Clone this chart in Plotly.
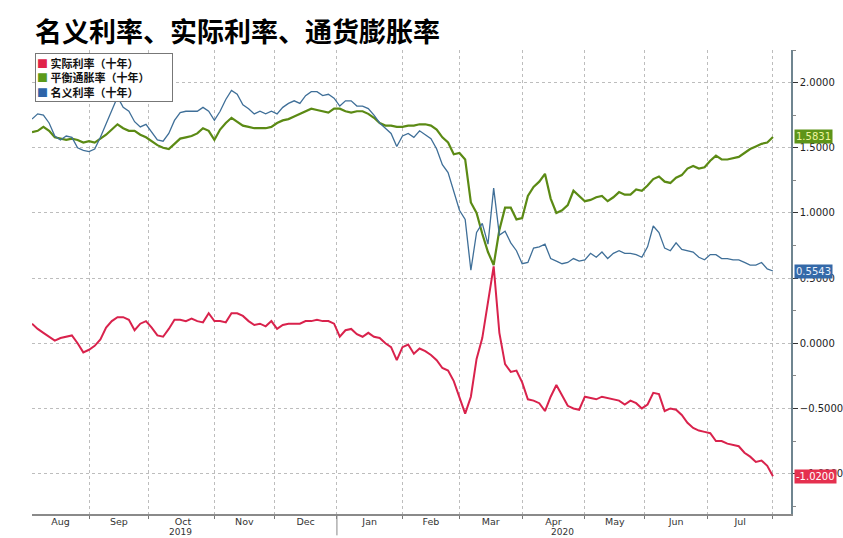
import pandas as pd
import plotly.graph_objects as go

# ---------------- data ----------------
title_text = "名义利率、实际利率、通货膨胀率"
series_names = ["实际利率（十年）", "平衡通胀率（十年）", "名义利率（十年）"]

# observation dates: every second business day, 2019-08-05 .. 2020-08-03
dates = pd.bdate_range("2019-08-05", "2020-08-03", freq="2B")

real_10y = [
    0.15, 0.11, 0.08, 0.05, 0.02, 0.04, 0.05, 0.06, 0.00, -0.07,
    -0.05, -0.02, 0.03, 0.12, 0.17, 0.20, 0.20, 0.18, 0.10, 0.15,
    0.17, 0.12, 0.06, 0.05, 0.11, 0.18, 0.18, 0.17, 0.19, 0.17,
    0.16, 0.23, 0.17, 0.17, 0.16, 0.23, 0.23, 0.21, 0.17, 0.14,
    0.15, 0.13, 0.17, 0.11, 0.14, 0.15, 0.15, 0.15, 0.17, 0.17,
    0.18, 0.17, 0.17, 0.15, 0.05, 0.10, 0.11, 0.07, 0.05, 0.08,
    0.05, 0.04, 0.00, -0.03, -0.13, -0.03, -0.01, -0.08, -0.04, -0.06,
    -0.09, -0.13, -0.19, -0.21, -0.29, -0.41, -0.54, -0.41, -0.12, 0.04,
    0.33, 0.59, 0.08, -0.16, -0.22, -0.21, -0.30, -0.43, -0.44, -0.46,
    -0.52, -0.41, -0.32, -0.40, -0.48, -0.50, -0.51, -0.41, -0.42, -0.43,
    -0.41, -0.42, -0.43, -0.44, -0.47, -0.44, -0.46, -0.50, -0.47, -0.38,
    -0.39, -0.52, -0.50, -0.51, -0.55, -0.61, -0.65, -0.67, -0.68, -0.69,
    -0.75, -0.75, -0.77, -0.78, -0.79, -0.84, -0.87, -0.91, -0.90, -0.94,
    -1.0200,
]

breakeven_10y = [
    1.62, 1.63, 1.66, 1.63, 1.58, 1.57, 1.56, 1.57, 1.56, 1.54,
    1.55, 1.54, 1.57, 1.60, 1.64, 1.68, 1.65, 1.63, 1.63, 1.60,
    1.58, 1.55, 1.52, 1.50, 1.49, 1.53, 1.57, 1.58, 1.59, 1.61,
    1.65, 1.63, 1.56, 1.64, 1.69, 1.73, 1.70, 1.67, 1.66, 1.65,
    1.65, 1.65, 1.66, 1.69, 1.71, 1.72, 1.74, 1.76, 1.78, 1.80,
    1.79, 1.78, 1.77, 1.80, 1.80, 1.78, 1.77, 1.78, 1.78, 1.76,
    1.73, 1.69, 1.67, 1.67, 1.66, 1.66, 1.67, 1.67, 1.68, 1.68,
    1.67, 1.64, 1.58, 1.54, 1.45, 1.46, 1.41, 1.08, 1.00, 0.84,
    0.70, 0.60, 0.87, 1.04, 1.04, 0.95, 0.96, 1.13, 1.20, 1.24,
    1.30, 1.11, 1.00, 1.02, 1.06, 1.17, 1.13, 1.09, 1.10, 1.12,
    1.13, 1.09, 1.12, 1.16, 1.14, 1.14, 1.18, 1.17, 1.21, 1.26,
    1.28, 1.24, 1.23, 1.27, 1.29, 1.34, 1.36, 1.34, 1.35, 1.40,
    1.44, 1.41, 1.41, 1.42, 1.43, 1.46, 1.49, 1.51, 1.53, 1.54,
    1.5831,
]

nominal_10y = [
    1.72, 1.76, 1.75, 1.69, 1.59, 1.56, 1.59, 1.58, 1.50, 1.48,
    1.47, 1.49, 1.58, 1.68, 1.79, 1.89, 1.81, 1.78, 1.70, 1.66,
    1.68, 1.62, 1.56, 1.55, 1.61, 1.71, 1.77, 1.78, 1.78, 1.78,
    1.81, 1.78, 1.71, 1.78, 1.87, 1.94, 1.91, 1.83, 1.80, 1.76,
    1.78, 1.76, 1.78, 1.76, 1.81, 1.84, 1.86, 1.84, 1.90, 1.93,
    1.93, 1.90, 1.91, 1.88, 1.82, 1.86, 1.86, 1.82, 1.82, 1.80,
    1.75, 1.69, 1.65, 1.61, 1.51, 1.59, 1.61, 1.58, 1.63, 1.60,
    1.57, 1.49, 1.37, 1.31, 1.17, 1.02, 0.95, 0.56, 0.85, 0.92,
    0.76, 1.19, 0.83, 0.86, 0.77, 0.71, 0.61, 0.62, 0.73, 0.74,
    0.76, 0.65, 0.63, 0.61, 0.62, 0.65, 0.63, 0.64, 0.69, 0.66,
    0.70, 0.65, 0.69, 0.71, 0.69, 0.69, 0.68, 0.66, 0.74, 0.90,
    0.85, 0.73, 0.71, 0.77, 0.72, 0.71, 0.70, 0.66, 0.64, 0.68,
    0.68, 0.65, 0.65, 0.64, 0.64, 0.62, 0.60, 0.60, 0.62, 0.57,
    0.5543,
]

month_labels = ["Aug", "Sep", "Oct", "Nov", "Dec", "Jan", "Feb", "Mar",
                "Apr", "May", "Jun", "Jul"]
month_label_dates = ["2019-08-19", "2019-09-16 12:00", "2019-10-17",
                     "2019-11-15 12:00", "2019-12-17", "2020-01-16 12:00",
                     "2020-02-17", "2020-03-17", "2020-04-16",
                     "2020-05-15 12:00", "2020-06-16", "2020-07-16 12:00"]
month_starts = ["2019-09-02", "2019-10-01", "2019-11-01", "2019-12-02",
                "2020-01-01", "2020-02-03", "2020-03-02", "2020-04-01",
                "2020-05-01", "2020-06-01", "2020-07-01", "2020-08-03"]
year_labels = ["2019", "2020"]
year_label_dates = ["2019-10-16", "2020-04-21"]
year_boundary = "2020-01-01"

# ---------------- styles ----------------
line_colors = ["#d9224c", "#5b8a14", "#3f6f98"]
legend_colors = ["#e0234a", "#5b9a1a", "#2e64a8"]
line_widths = [2.0, 2.2, 1.3]
tag_bg = ["#e5304f", "#5e9418", "#3469a8"]
tag_fg = ["#ffffff", "#eef5a0", "#e6eefa"]

series_values = [real_10y, breakeven_10y, nominal_10y]
n = len(dates)
for vals in series_values:
    assert len(vals) == n, (len(vals), n)

fig = go.Figure()
for name, vals, col, w in zip(series_names, series_values, line_colors, line_widths):
    fig.add_trace(go.Scatter(
        x=dates, y=vals, mode="lines", name=name,
        line=dict(color=col, width=w), showlegend=False, hoverinfo="skip",
    ))

annotations = []
# legend box
legend_html = "<br>".join(
    f"<span style='color:{c}'>■</span> {nm}" for nm, c in zip(series_names, legend_colors)
)
annotations.append(dict(
    xref="paper", yref="paper", x=0.004, y=0.9935, xanchor="left", yanchor="top",
    text=legend_html, showarrow=False, align="left", width=134,
    font=dict(family="Noto Sans CJK SC", size=11, color="#111111", weight="bold"),
    bgcolor="white", bordercolor="#777777", borderwidth=1, borderpad=1,
))
# last-value tags
for vals, bg, fg in zip(series_values, tag_bg, tag_fg):
    annotations.append(dict(
        xref="paper", yref="y", x=1, y=vals[-1], xanchor="left", yanchor="middle",
        xshift=3, text=f"{vals[-1]:.4f}", showarrow=False,
        font=dict(family="DejaVu Sans", size=10, color=fg),
        bgcolor=bg, borderpad=1,
    ))
# year labels
for lab, d in zip(year_labels, year_label_dates):
    annotations.append(dict(
        xref="x", yref="paper", x=d, y=0, yanchor="middle", yshift=-18,
        text=lab, showarrow=False, borderpad=0,
        font=dict(family="DejaVu Sans", size=9, color="#333333"),
    ))

fig.update_layout(
    width=843, height=538,
    margin=dict(l=32, r=52, t=50, b=24),
    paper_bgcolor="white", plot_bgcolor="white",
    title=dict(text=title_text, x=35 / 843, xanchor="left", xref="container",
               y=1 - 33 / 538, yanchor="middle", yref="container",
               font=dict(family="Noto Sans CJK SC", size=27, color="#000000", weight="bold")),
    showlegend=False,
    annotations=annotations,
    shapes=[dict(type="line", xref="x", yref="paper", x0=year_boundary, x1=year_boundary,
                 y0=0, y1=-0.046, line=dict(color="#888888", width=1))],
    xaxis=dict(
        type="date", automargin=False,
        range=["2019-08-05", "2020-08-11 08:00"],
        rangebreaks=[dict(bounds=["sat", "mon"])],
        tickmode="array", tickvals=month_label_dates, ticktext=month_labels,
        ticks="", showgrid=False, zeroline=False, ticklabelstandoff=-2,
        showline=True, linecolor="#8a8a8a", linewidth=2,
        tickfont=dict(family="DejaVu Sans", size=9.5, color="#333333"),
        minor=dict(tickmode="array", tickvals=month_starts, ticks="outside",
                   ticklen=3, tickcolor="#777777", showgrid=True,
                   gridcolor="#bdbdbd", griddash="dot", gridwidth=1),
    ),
    yaxis=dict(
        side="right", range=[-1.31, 2.25], automargin=False,
        tick0=0, dtick=0.5, tickformat=".4f",
        ticks="outside", ticklen=5, tickcolor="#333333",
        showline=True, linecolor="#6f8590", linewidth=1.5,
        showgrid=True, gridcolor="#bdbdbd", griddash="dot", gridwidth=1,
        zeroline=False,
        tickfont=dict(family="DejaVu Sans", size=10, color="#222222"),
        minor=dict(dtick=0.25, ticks="outside", ticklen=3, tickcolor="#888888"),
    ),
)

fig.write_html("out.html",
               config={"displayModeBar": False},
               post_script="document.body.style.margin='0';document.body.style.overflow='hidden';")
